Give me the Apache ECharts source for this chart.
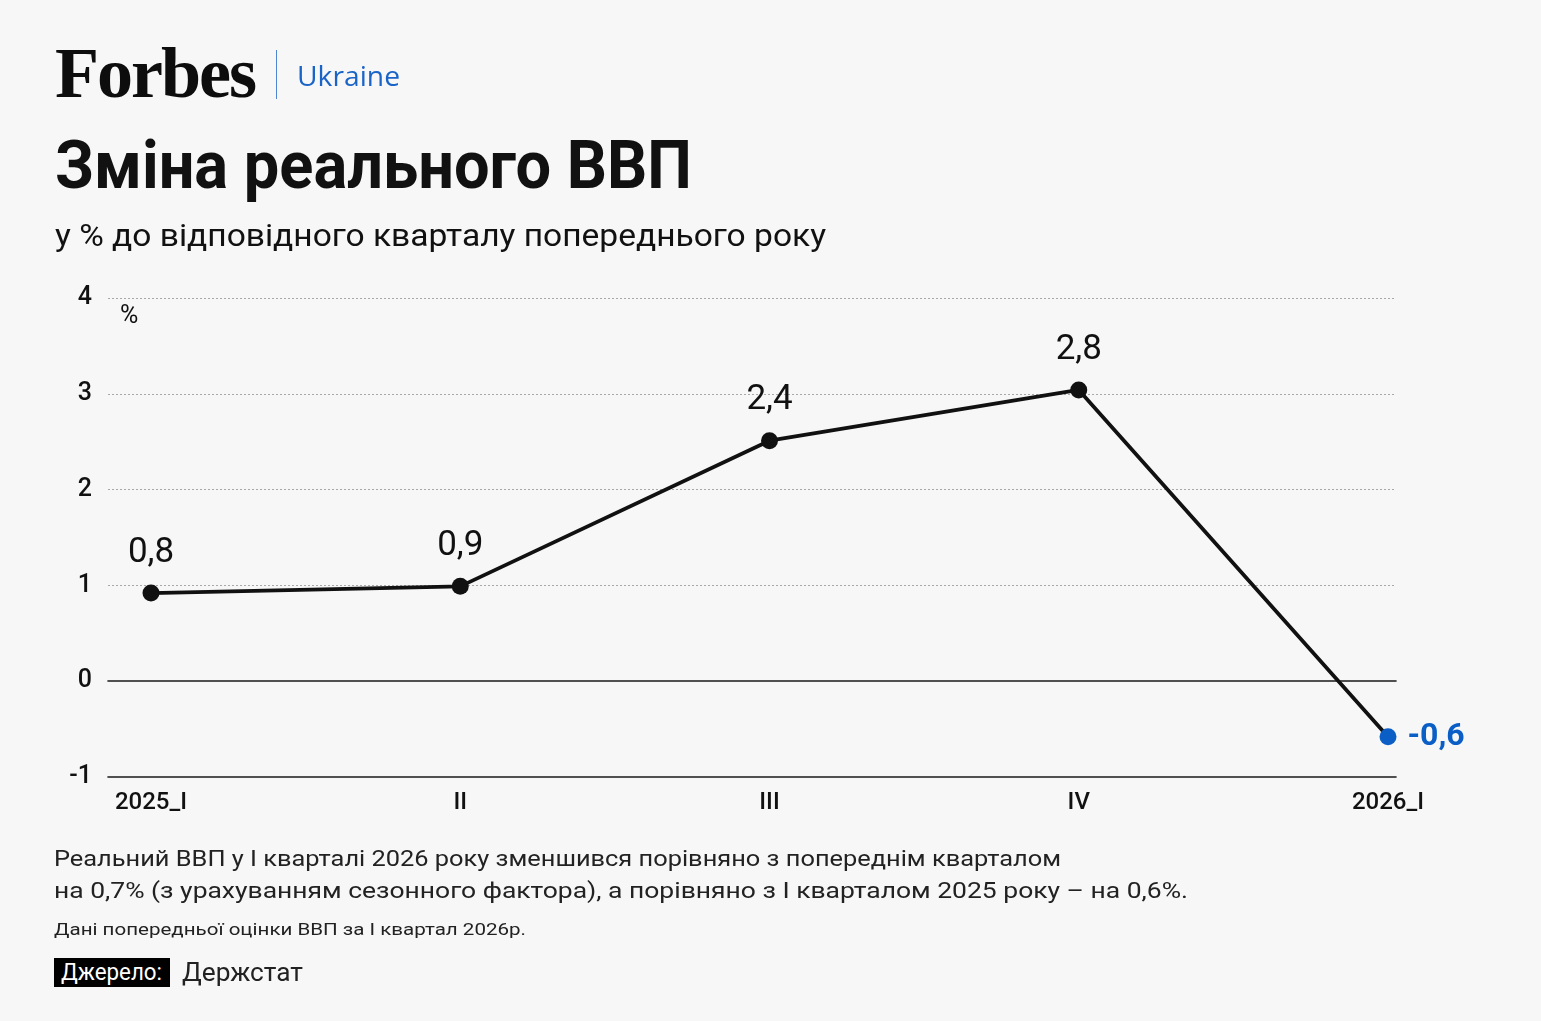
<!DOCTYPE html>
<html>
<head>
<meta charset="utf-8">
<script src="https://cdn.jsdelivr.net/npm/echarts@6/dist/echarts.min.js"></script>
<style>
  html, body { margin: 0; padding: 0; background: #f7f7f7; }
  #wrap { position: relative; width: 1541px; height: 1021px; overflow: hidden; }
  #chart { position: absolute; left: 0; top: 0; width: 1541px; height: 1021px; }
  .t { position: absolute; white-space: nowrap; line-height: 1; transform-origin: 0 0;
       font-family: Roboto, 'Noto Sans', sans-serif; color: #111; z-index: 2; }
  .logo { font-family: 'Liberation Serif', 'DejaVu Serif', serif; font-weight: bold; font-size: 71px; letter-spacing: -2px; color: #0d0d0d; }
  .ukr { font-family: 'Open Sans', 'Noto Sans', sans-serif; color: #1a64c8; font-size: 27px; }
  #sep { position: absolute; left: 276px; top: 50px; width: 1px; height: 49px; background: #4f86d2; z-index: 2; }
  #srcbox { position: absolute; left: 54px; top: 958px; width: 116px; height: 29px; background: #000; z-index: 1; }
</style>
</head>
<body>
<div id="wrap">
  <div id="chart"></div>
  <div class="t logo" data-fit="200" style="left:55px; top:38px;">Forbes</div>
  <div id="sep"></div>
  <div class="t ukr" data-fit="103" style="left:297px; top:62px;">Ukraine</div>
  <div class="t" data-fit="637" style="left:55px; top:132px; font-size:67px; font-weight:bold;">Зміна реального ВВП</div>
  <div class="t" data-fit="771" style="left:55px; top:220px; font-size:31px;">у % до відповідного кварталу попереднього року</div>
  <div class="t" data-fit="1007" style="left:54px; top:847px; font-size:22.5px; color:#222;">Реальний ВВП у I кварталі 2026 року зменшився порівняно з попереднім кварталом</div>
  <div class="t" data-fit="1134" style="left:54px; top:879px; font-size:22.5px; color:#222;">на 0,7% (з урахуванням сезонного фактора), а порівняно з I кварталом 2025 року – на 0,6%.</div>
  <div class="t" data-fit="472" style="left:54px; top:922px; font-size:16.5px; color:#222;">Дані попередньої оцінки ВВП за I квартал 2026р.</div>
  <div id="srcbox"></div>
  <div class="t" data-fit="101" style="left:61px; top:961px; font-size:23px; color:#fff;">Джерело:</div>
  <div class="t" data-fit="121" style="left:182px; top:959px; font-size:26px; color:#222;">Держстат</div>
</div>
<script>
// quarters on the x axis
var quarters = ['2025_I', 'II', 'III', 'IV', '2026_I'];
// point heights as drawn in the picture, % y/y
var gdpValues = [0.92, 0.99, 2.51, 3.04, -0.58];
// value labels printed next to the points
var gdpLabels = ['0,8', '0,9', '2,4', '2,8', '-0,6'];
// y axis range
var yMin = -1, yMax = 4, yStep = 1;

var FONT = "Roboto, 'Noto Sans', sans-serif";
var BLUE = '#0b5ec6';

// squeeze html texts to the widths of the original
document.querySelectorAll('[data-fit]').forEach(function (el) {
    var w = el.getBoundingClientRect().width;
    var target = parseFloat(el.getAttribute('data-fit'));
    if (w > 0) el.style.transform = 'scaleX(' + (target / w) + ')';
});

var chart = echarts.init(document.getElementById('chart'));

var seriesData = gdpValues.map(function (v, i) {
    var item = { value: v };
    if (i === gdpValues.length - 1) {
        item.itemStyle = { color: BLUE };
        item.label = {
            position: 'right', distance: 11, color: BLUE,
            fontWeight: 'bold', fontSize: 32
        };
    }
    return item;
});

var option = {
    backgroundColor: 'transparent',
    animation: false,
    textStyle: { fontFamily: FONT },
    grid: [
        { left: 108, right: 145, top: 298, bottom: 244 },
        { left: 151, right: 153, top: 298, bottom: 244 }
    ],
    xAxis: [
        {
            // zero line
            gridIndex: 0, type: 'value', min: 0, max: 1,
            axisLine: { show: true, onZero: true, lineStyle: { color: '#1a1a1a', width: 1.6 } },
            axisTick: { show: false }, axisLabel: { show: false }, splitLine: { show: false }
        },
        {
            gridIndex: 1, type: 'category', data: quarters, boundaryGap: false,
            axisLine: { show: false }, axisTick: { show: false },
            axisLabel: { color: '#111', fontSize: 24, fontWeight: 500, margin: 14, fontFamily: FONT },
            splitLine: { show: false }
        },
        {
            // bottom line at -1
            gridIndex: 0, type: 'value', min: 0, max: 1, position: 'bottom',
            axisLine: { show: true, onZero: false, lineStyle: { color: '#1a1a1a', width: 1.6 } },
            axisTick: { show: false }, axisLabel: { show: false }, splitLine: { show: false }
        }
    ],
    yAxis: [
        {
            gridIndex: 0, type: 'value', min: yMin, max: yMax, interval: yStep,
            axisLine: { show: false }, axisTick: { show: false },
            axisLabel: { color: '#111', fontSize: 25, fontWeight: 500, margin: 16, fontFamily: FONT },
            splitLine: {
                show: true,
                lineStyle: {
                    type: [2, 2], width: 1,
                    color: ['rgba(0,0,0,0)', 'rgba(0,0,0,0)', '#a8a8a8', '#a8a8a8', '#a8a8a8', '#a8a8a8']
                }
            }
        },
        {
            gridIndex: 1, type: 'value', min: yMin, max: yMax, interval: yStep, show: false
        }
    ],
    graphic: [
        {
            type: 'text', left: 120, top: 304,
            style: { text: '%', fontSize: 25, fill: '#111', fontFamily: FONT }
        }
    ],
    series: [
        {
            type: 'line',
            xAxisIndex: 1, yAxisIndex: 1,
            data: seriesData,
            symbol: 'circle', symbolSize: 17,
            lineStyle: { color: '#111', width: 3.8 },
            itemStyle: { color: '#111' },
            label: {
                show: true, position: 'top', distance: 14,
                fontSize: 35, color: '#111', fontFamily: FONT,
                formatter: function (p) { return gdpLabels[p.dataIndex]; }
            },
            z: 5
        }
    ]
};

chart.setOption(option);
</script>
</body>
</html>
